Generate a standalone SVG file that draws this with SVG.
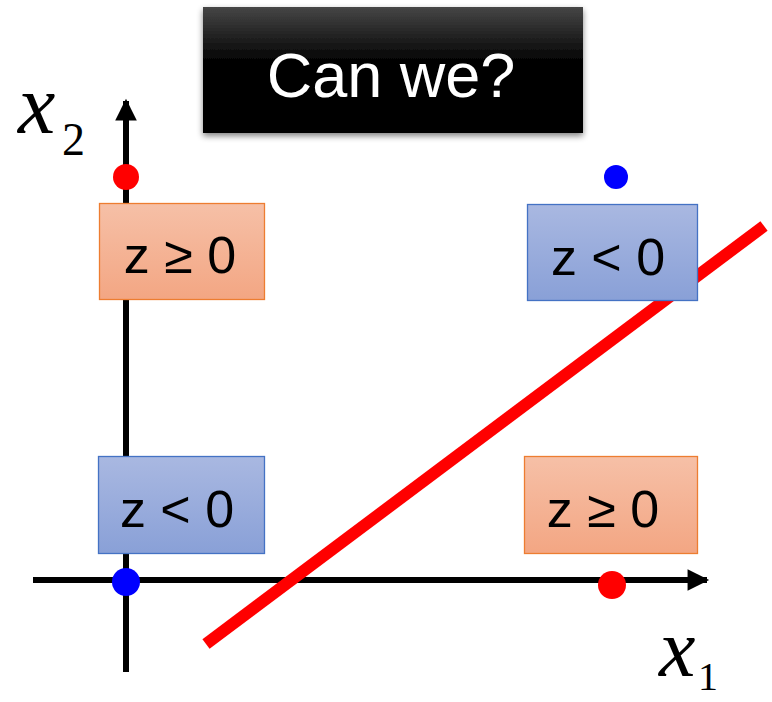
<svg xmlns="http://www.w3.org/2000/svg" width="772" height="702" viewBox="0 0 772 702">
<style>
.lbl{font-family:"Liberation Sans","Open Sans",sans-serif;font-size:52px;fill:#000;text-anchor:middle}
.ax{stroke:#000;stroke-width:6;fill:none}
.math{font-family:"Liberation Serif","DejaVu Serif",serif;fill:#000}
</style>
<defs>
<linearGradient id="og" x1="0" y1="0" x2="0" y2="1"><stop offset="0" stop-color="#f6c0a7"/><stop offset="1" stop-color="#f3a683"/></linearGradient>
<linearGradient id="bg" x1="0" y1="0" x2="0" y2="1"><stop offset="0" stop-color="#a9b8e1"/><stop offset="1" stop-color="#89a0d7"/></linearGradient>
<linearGradient id="tg" x1="0" y1="0" x2="0" y2="1"><stop offset="0" stop-color="#464646"/><stop offset="0.45" stop-color="#000"/><stop offset="1" stop-color="#000"/></linearGradient>
<filter id="sh" x="-10%" y="-10%" width="120%" height="130%"><feGaussianBlur in="SourceAlpha" stdDeviation="3"/><feOffset dx="0" dy="3"/><feComponentTransfer><feFuncA type="linear" slope="0.5"/></feComponentTransfer><feMerge><feMergeNode/><feMergeNode in="SourceGraphic"/></feMerge></filter>
<marker id="ah" viewBox="0 0 10 10" refX="9" refY="5" markerWidth="4" markerHeight="3.6" orient="auto" markerUnits="strokeWidth"><path d="M0,0 L10,5 L0,10 Z" fill="#000"/></marker>
</defs>
<g id="title" filter="url(#sh)">
<rect x="203" y="7" width="380" height="126" fill="url(#tg)"/>
<text x="391" y="97" font-family="Liberation Sans,Open Sans,sans-serif" font-size="63" fill="#fff" text-anchor="middle">Can we?</text>
</g>
<g id="connectors">
<line class="ax" x1="126" y1="672" x2="126" y2="101" marker-end="url(#ah)"/>
<line class="ax" x1="33" y1="580" x2="707" y2="580" marker-end="url(#ah)"/>
<line x1="206" y1="644" x2="764" y2="226" stroke="#ff0000" stroke-width="12"/>
</g>
<g id="box-tl">
<rect x="99.5" y="203.5" width="165" height="96" fill="url(#og)" stroke="#ed7d31" stroke-width="1.3"/>
<text class="lbl" x="180" y="273">z ≥ 0</text>
</g>
<g id="box-tr">
<rect x="527.5" y="204.5" width="170" height="96" fill="url(#bg)" stroke="#4472c4" stroke-width="1.3"/>
<text class="lbl" x="608" y="275">z &lt; 0</text>
</g>
<g id="box-bl">
<rect x="98.5" y="456.5" width="166" height="97" fill="url(#bg)" stroke="#4472c4" stroke-width="1.3"/>
<text class="lbl" x="177" y="527">z &lt; 0</text>
</g>
<g id="box-br">
<rect x="524.5" y="456.5" width="173" height="97" fill="url(#og)" stroke="#ed7d31" stroke-width="1.3"/>
<text class="lbl" x="603" y="527">z ≥ 0</text>
</g>
<g id="dots">
<circle cx="126" cy="177" r="13" fill="#ff0000"/>
<circle cx="616" cy="177" r="12" fill="#0000ff"/>
<circle cx="126" cy="582" r="14" fill="#0000ff"/>
<circle cx="612" cy="585" r="14" fill="#ff0000"/>
</g>
<g id="label-x2">
<text class="math" x="18" y="133" font-size="84" font-style="italic">x</text>
<text class="math" x="62" y="155" font-size="46">2</text>
</g>
<g id="label-x1">
<text class="math" x="659" y="676" font-size="82" font-style="italic">x</text>
<text class="math" x="698" y="690" font-size="40">1</text>
</g>
</svg>
